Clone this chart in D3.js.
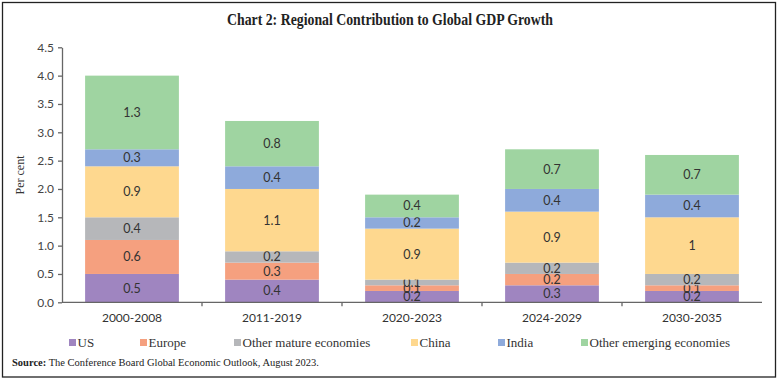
<!DOCTYPE html>
<html>
<head>
<meta charset="utf-8">
<script src="https://cdn.jsdelivr.net/npm/d3@7.9.0/dist/d3.min.js"></script>
<style>
  body { margin: 0; background: #fff; }
  svg { display: block; }
</style>
</head>
<body>
<svg id="chart" width="781" height="381"></svg>
<script>
// periods on the x axis
const periods = ["2000-2008", "2011-2019", "2020-2023", "2024-2029", "2030-2035"];
const regions = ["US", "Europe", "Other mature economies", "China", "India", "Other emerging economies"];
// one array per region, same order as periods
const us = [0.5, 0.4, 0.2, 0.3, 0.2];
const europe = [0.6, 0.3, 0.1, 0.2, 0.1];
const otherMature = [0.4, 0.2, 0.1, 0.2, 0.2];
const china = [0.9, 1.1, 0.9, 0.9, 1];
const india = [0.3, 0.4, 0.2, 0.4, 0.4];
const otherEmerging = [1.3, 0.8, 0.4, 0.7, 0.7];
const yTicks = [0, 0.5, 1, 1.5, 2, 2.5, 3, 3.5, 4, 4.5];

const colors = ["#9f85c0", "#f5a07f", "#b6b7ba", "#fed88f", "#8eaadb", "#9fd4a1"];
const series = [us, europe, otherMature, china, india, otherEmerging];

// build rows for d3.stack
let rows = periods.map((p, i) => {
  let r = { period: p };
  regions.forEach((k, j) => { r[k] = series[j][i]; });
  return r;
});
let stacked = d3.stack().keys(regions)(rows);

const svg = d3.select("#chart");
const serif = "'Liberation Serif', 'DejaVu Serif', serif";
const sans = "Lato, 'Open Sans', sans-serif";

// frame
svg.append("rect")
  .attr("x", 2.5).attr("y", 2.5)
  .attr("width", 773).attr("height", 374.5)
  .attr("fill", "none").attr("stroke", "#222").attr("stroke-width", 1.3);

svg.append("text")
  .attr("x", 390).attr("y", 25)
  .attr("text-anchor", "middle")
  .attr("font-family", serif).attr("font-size", 16).attr("font-weight", "bold")
  .attr("textLength", 326).attr("lengthAdjust", "spacingAndGlyphs")
  .attr("fill", "#222")
  .text("Chart 2: Regional Contribution to Global GDP Growth");

let x = d3.scaleBand().domain(periods).range([62, 762]).paddingInner(0.33).paddingOuter(0.165);
let y = d3.scaleLinear().domain([0, 4.5]).range([302.3, 47.3]);

// bars
let g = svg.append("g");
stacked.forEach((layer, j) => {
  g.selectAll(null)
    .data(layer)
    .enter()
    .append("rect")
    .attr("x", d => x(d.data.period))
    .attr("y", d => y(d[1]))
    .attr("width", x.bandwidth())
    .attr("height", d => y(d[0]) - y(d[1]))
    .attr("fill", colors[j]);
  g.selectAll(null)
    .data(layer)
    .enter()
    .append("text")
    .attr("x", d => x(d.data.period) + x.bandwidth() / 2)
    .attr("y", d => (y(d[0]) + y(d[1])) / 2 + 4.5)
    .attr("text-anchor", "middle")
    .attr("font-family", sans).attr("font-size", 12.5)
    .attr("fill", "#333")
    .text(d => String(+(d[1] - d[0]).toFixed(1)));
});

// y axis
let yAxis = svg.append("g")
  .attr("transform", "translate(62,0)")
  .call(d3.axisLeft(y).tickValues(yTicks).tickFormat(d3.format(".1f")).tickSize(4).tickSizeOuter(0));
yAxis.select(".domain").attr("stroke", "#666").attr("stroke-width", 1.3);
yAxis.selectAll(".tick line").attr("stroke", "#666").attr("stroke-width", 1.3);
yAxis.selectAll("text").attr("font-family", sans).attr("font-size", 12).attr("fill", "#444").attr("x", -8);

// x axis, ticks fall on the band edges
let xAxis = svg.append("g").attr("transform", "translate(0,302.3)");
xAxis.append("line").attr("x1", 62).attr("x2", 762).attr("stroke", "#666").attr("stroke-width", 1.3);
xAxis.selectAll(null)
  .data(periods.slice(1))
  .enter()
  .append("line")
  .attr("x1", d => x(d) - x.step() * x.paddingInner() / 2)
  .attr("x2", d => x(d) - x.step() * x.paddingInner() / 2)
  .attr("y1", 0).attr("y2", 4)
  .attr("stroke", "#666").attr("stroke-width", 1.3);
xAxis.selectAll(null)
  .data(periods)
  .enter()
  .append("text")
  .attr("x", d => x(d) + x.bandwidth() / 2)
  .attr("y", 19.5)
  .attr("text-anchor", "middle")
  .attr("font-family", sans).attr("font-size", 12)
  .attr("fill", "#333")
  .text(d => d);

svg.append("text")
  .attr("transform", "translate(24,175) rotate(-90)")
  .attr("text-anchor", "middle")
  .attr("font-family", serif).attr("font-size", 12)
  .attr("fill", "#333")
  .text("Per cent");

// legend
const legendX = [69, 140, 234, 411, 498, 581];
let legend = svg.append("g");
regions.forEach((r, i) => {
  legend.append("rect")
    .attr("x", legendX[i]).attr("y", 339)
    .attr("width", 7).attr("height", 7)
    .attr("fill", colors[i]);
  legend.append("text")
    .attr("x", legendX[i] + 8.5).attr("y", 347)
    .attr("font-family", serif).attr("font-size", 13)
    .attr("fill", "#333")
    .text(r);
});

let src = svg.append("text")
  .attr("x", 12).attr("y", 366)
  .attr("font-family", serif).attr("font-size", 10.5)
  .attr("fill", "#222");
src.append("tspan").attr("font-weight", "bold").text("Source:");
src.append("tspan").text(" The Conference Board Global Economic Outlook, August 2023.");
</script>
</body>
</html>
